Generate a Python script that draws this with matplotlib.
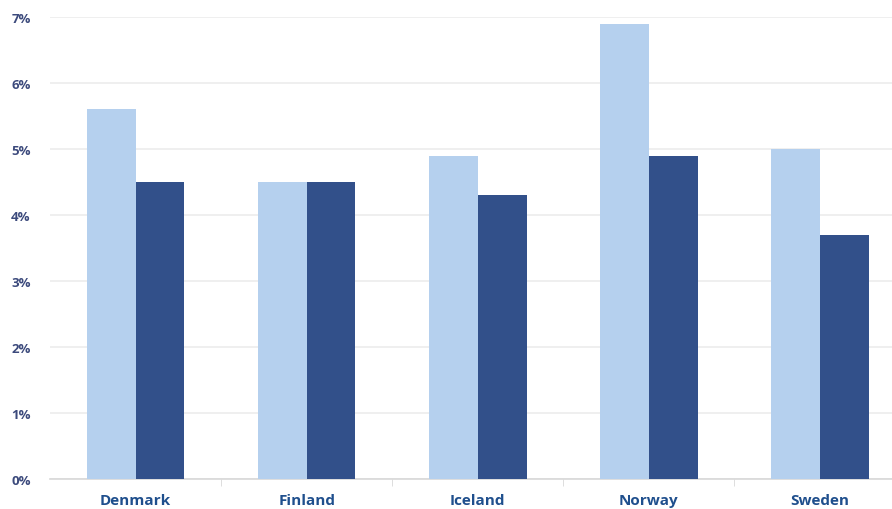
import matplotlib.pyplot as plt
from matplotlib.ticker import FuncFormatter, FixedLocator

countries = ["Denmark", "Finland", "Iceland", "Norway", "Sweden"]
series_a = [5.6, 4.5, 4.9, 6.9, 5.0]
series_b = [4.5, 4.5, 4.3, 4.9, 3.7]
y_ticks = [0, 1, 2, 3, 4, 5, 6, 7]

plt.rcParams['font.family'] = ['Open Sans', 'DejaVu Sans']

fig = plt.figure(figsize=(8.92, 5.10), dpi=100)
ax = fig.add_axes([50 / 892, 30 / 510, 855.5 / 892, 462 / 510])

x = list(range(len(countries)))
w = 0.285
ax.bar([i - w / 2 for i in x], series_a, width=w, color="#b5d0ee", zorder=3)
ax.bar([i + w / 2 for i in x], series_b, width=w, color="#32508a", zorder=3)

ax.set_xlim(-0.5, len(countries) - 0.5)
ax.set_ylim(0, 7)
ax.set_yticks(y_ticks)
ax.yaxis.set_major_formatter(FuncFormatter(lambda v, p: f"{int(v)}%"))
ax.grid(axis="y", color="#ececec", linewidth=1.2, zorder=0)

ax.set_xticks(x)
ax.set_xticklabels(countries, fontsize=11, fontweight="bold", color="#1f4f8d")
ax.xaxis.set_minor_locator(FixedLocator([i + 0.5 for i in x[:-1]]))
ax.tick_params(axis="x", which="major", length=0, pad=10)
ax.tick_params(axis="x", which="minor", length=5, color="#d8d8d8")
ax.tick_params(axis="y", length=0, pad=14, labelsize=9.5, labelcolor="#3c4a7c")
for lbl in ax.get_yticklabels():
    lbl.set_fontweight("bold")

for s in ["top", "right", "left"]:
    ax.spines[s].set_visible(False)
ax.spines["bottom"].set_color("#d8d8d8")
ax.spines["bottom"].set_linewidth(1.2)

fig.savefig("out.png", dpi=100)
